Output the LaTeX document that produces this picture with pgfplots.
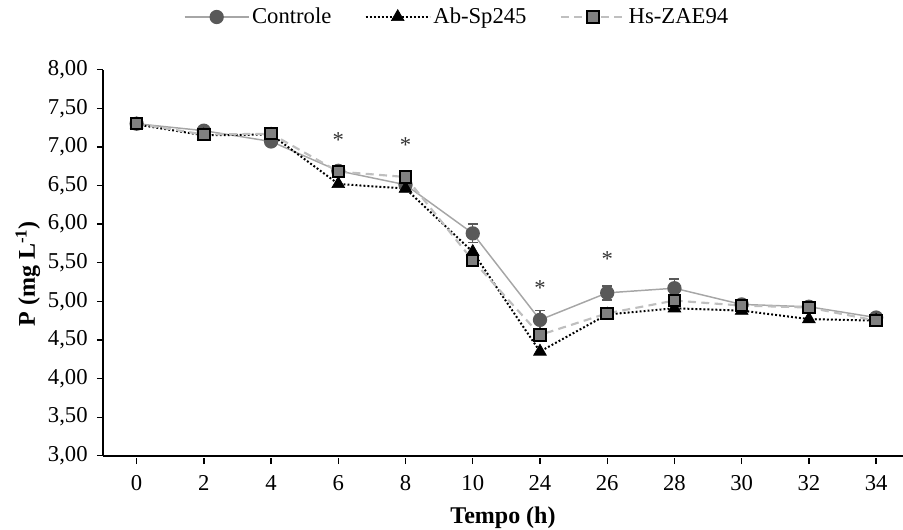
\documentclass[border=0pt]{standalone}
\usepackage{fontspec}
\setmainfont{Liberation Serif}
\usepackage{pgfplots}
\pgfplotsset{compat=1.18}
\usepackage{pgfplotstable}

\definecolor{cgray}{HTML}{595959}
\definecolor{lgray}{HTML}{A6A6A6}
\definecolor{sgray}{HTML}{808080}
\definecolor{dgray}{HTML}{BFBFBF}

\pgfplotstableread{
x y e
0 7.30 0.02
1 7.21 0.03
2 7.07 0.03
3 6.69 0.03
4 6.51 0.03
5 5.88 0.12
6 4.76 0.12
7 5.11 0.09
8 5.17 0.12
9 4.96 0.03
10 4.93 0.03
11 4.79 0.03
}\controle

\pgfplotstableread{
x y
0 7.29
1 7.15
2 7.16
3 6.52
4 6.46
5 5.64
6 4.35
7 4.83
8 4.91
9 4.88
10 4.77
11 4.75
}\absp

\pgfplotstableread{
x y
0 7.30
1 7.16
2 7.17
3 6.68
4 6.61
5 5.53
6 4.565
7 4.845
8 5.01
9 4.945
10 4.92
11 4.75
}\hszae

\begin{document}
\begin{tikzpicture}
\begin{axis}[
  scale only axis, width=600pt, height=289.6pt,
  xmin=-0.5, xmax=11.4, ymin=3, ymax=8,
  clip=false,
  axis x line*=bottom, axis y line*=left,
  axis line style={line width=1.1pt, black},
  xtick={0,...,11},
  xticklabels={0,2,4,6,8,10,24,26,28,30,32,34},
  ytick={3,3.5,4,4.5,5,5.5,6,6.5,7,7.5,8},
  tick align=outside, major tick length=4.5pt,
  tick style={black, line width=1pt},
  xtick style={yshift=-1.8pt},
  font=\fontsize{17}{20}\selectfont,
  /pgf/number format/assume math mode=true,
  yticklabel style={xshift=-3.5pt, /pgf/number format/.cd, fixed, fixed zerofill, precision=2, use comma},
  xticklabel style={yshift=-6.5pt},
  every axis x label/.style={at={(axis description cs:0.5,-0.1606)}, anchor=center, font=\fontsize{18}{21}\selectfont},
  every axis y label/.style={at={(axis description cs:-0.094,0.471)}, rotate=90, anchor=center, font=\fontsize{18}{21}\selectfont},
  xlabel={\bfseries Tempo (h)},
  ylabel={\bfseries P (mg L\textsuperscript{-1})},
  legend style={draw=none, fill=none, at={(0.443,1)}, anchor=center, yshift=39.5pt,
    font=\fontsize{17}{20}\selectfont,
    /tikz/every even column/.append style={column sep=23pt}},
  legend columns=3,
  legend image code/.code={\draw[mark repeat=2,mark phase=2,#1] plot coordinates {(0pt,0pt) (24pt,0pt) (48pt,0pt)};},
]
\addplot[color=lgray, line width=1.1pt, mark=*, mark size=4.8pt,
  mark options={fill=cgray, draw=cgray, solid},
  error bars/.cd, y dir=both, y explicit,
  error bar style={cgray, line width=1.1pt, solid},
  error mark options={rotate=90, mark size=3.75pt, cgray, line width=1.1pt}]
  table[x=x, y=y, y error=e] {\controle};
\addlegendentry{Controle}
\addplot[color=black, line width=1.5pt, dash pattern=on 1.4pt off 1.6pt, mark=triangle*, mark size=5.5pt,
  mark options={fill=black, draw=black, solid, line width=0.5pt}]
  table[x=x, y=y] {\absp};
\addlegendentry{Ab-Sp245}
\addplot[color=dgray, line width=1.6pt, dash pattern=on 6pt off 4pt, mark=square*, mark size=4.3pt,
  mark options={fill=sgray, draw=black, solid, line width=1.5pt}]
  table[x=x, y=y] {\hszae};
\addlegendentry{Hs-ZAE94}
\addplot[draw=none, mark=none, forget plot, nodes near coords={*},
  every node near coord/.append style={anchor=center, inner sep=0pt, text=black!80, font=\fontsize{17}{20}\selectfont}]
  coordinates {(3,7.085) (4,7.025) (6,5.175) (7,5.545)};
\coordinate (BL) at (rel axis cs:0,0);
\end{axis}
\pgfresetboundingbox
\path (BL) ++(-77.25pt,-55.65pt) rectangle ++(677.25pt,397.5pt);
\end{tikzpicture}
\end{document}
